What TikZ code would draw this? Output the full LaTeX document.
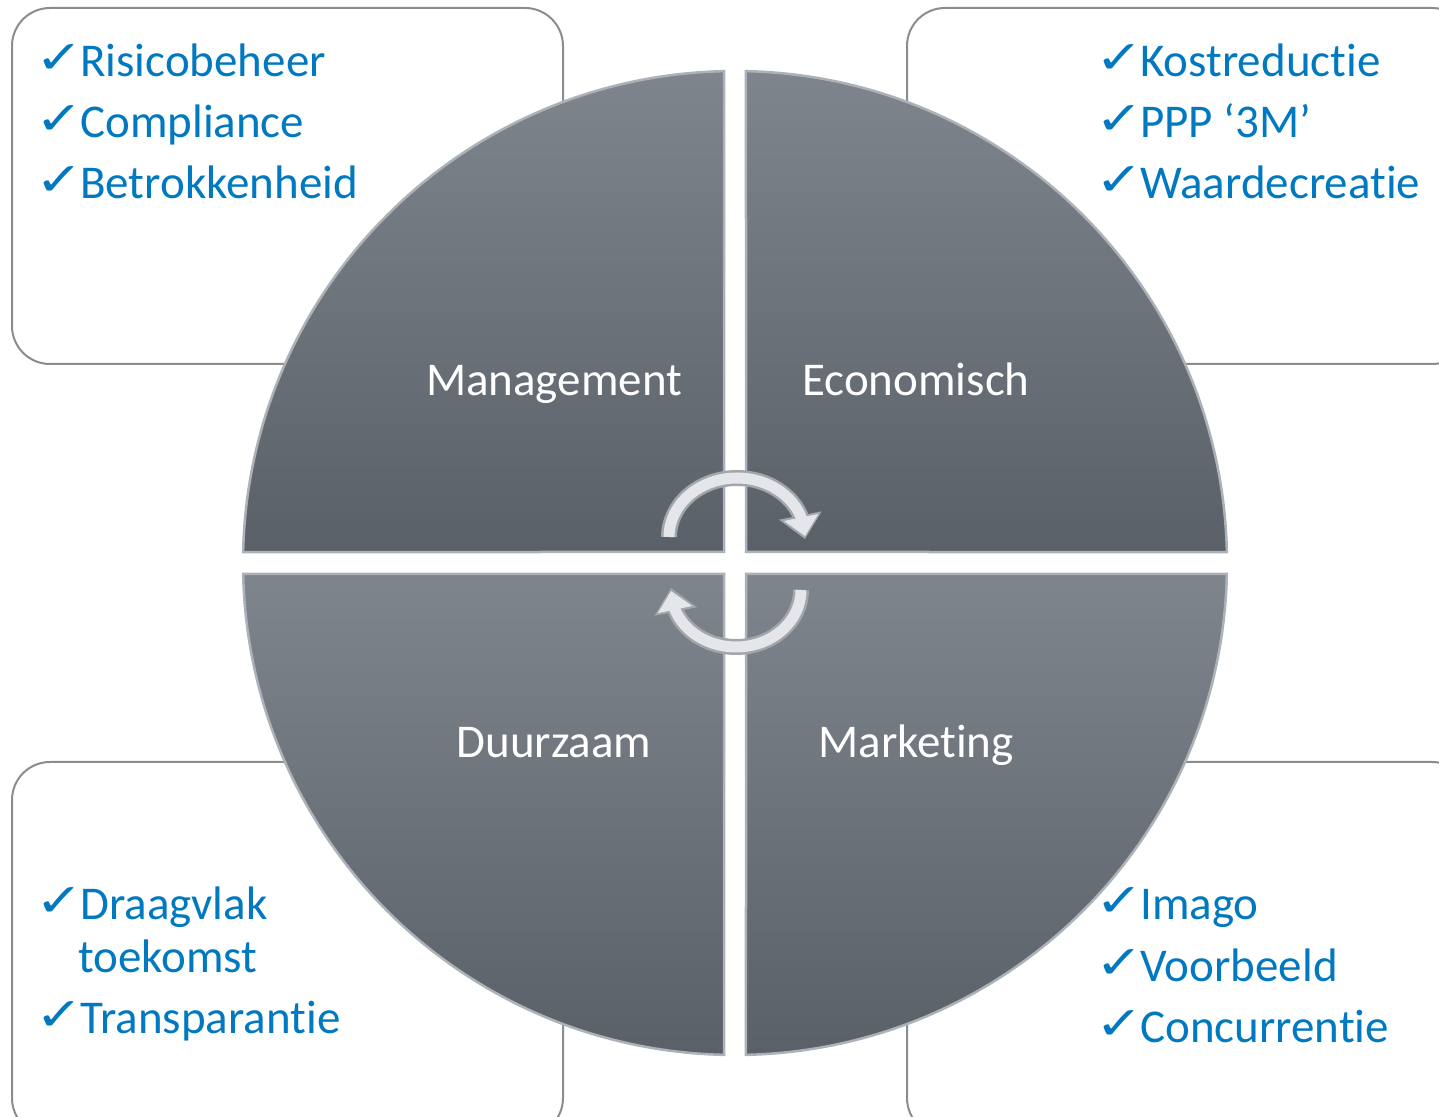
\documentclass[tikz,border=0pt]{standalone}
\usepackage{fontspec}
\setmainfont{Carlito}[Ligatures=NoCommon]
\newfontfamily\dejavu{DejaVu Sans}
\usetikzlibrary{arrows.meta,bending}
\definecolor{txtblue}{RGB}{0,121,193}
\definecolor{qtop}{RGB}{126,133,140}
\definecolor{qbot}{RGB}{89,96,103}
\definecolor{qedge}{RGB}{172,178,184}
\definecolor{boxline}{RGB}{140,140,140}
\definecolor{arrowout}{RGB}{160,166,172}
\definecolor{arrowin}{RGB}{228,230,233}
\newcommand{\chk}{\makebox[36pt][l]{\hspace*{-9pt}\raisebox{3pt}{\scalebox{1.25}[1]{\dejavu\fontsize{46}{46}\selectfont ✓}}}}
\tikzset{
  infobox/.style={draw=boxline, line width=2pt, fill=white, rounded corners=38pt},
  quad/.style={top color=qtop, bottom color=qbot, draw=qedge, line width=2.5pt},
  quadlabel/.style={text=white, font=\fontsize{47}{56}\selectfont, anchor=base, inner sep=0pt},
  listtxt/.style={text=txtblue, font=\fontsize{47}{56}\selectfont, anchor=base west, inner sep=0pt},
  arrowouter/.style={draw=arrowout, line width=16pt, -{Triangle[length=24pt,width=42pt,flex]}},
  arrowinner/.style={draw=arrowin, line width=11pt, shorten >=3pt, -{Triangle[length=19pt,width=34pt,flex]}}
}
\begin{document}
\begin{tikzpicture}[x=1pt,y=1pt]
\useasboundingbox (0,0) rectangle (1439,1116);
\clip (0,0) rectangle (1439,1116);
\fill[white] (0,0) rectangle (1439,1116);
% boxes
\draw[infobox] (12,752) rectangle (563,1108);
\draw[infobox] (907,752) rectangle (1470,1108);
\draw[infobox] (12,-20) rectangle (563,354);
\draw[infobox] (907,-20) rectangle (1470,354);
% quadrants
\coordinate (c) at (735,553);
\path[quad] (724,564) -- ([shift={(91.28:492)}]c) arc[start angle=91.28,end angle=178.72,radius=492] -- cycle;
\path[quad] (746,564) -- ([shift={(1.28:492)}]c) arc[start angle=1.28,end angle=88.72,radius=492] -- cycle;
\path[quad] (724,542) -- ([shift={(181.28:492)}]c) arc[start angle=181.28,end angle=268.72,radius=492] -- cycle;
\path[quad] (746,542) -- ([shift={(271.28:492)}]c) arc[start angle=271.28,end angle=358.72,radius=492] -- cycle;
% circular arrows
\coordinate (a1) at (669,579);
\coordinate (a2) at (801,526);
\draw[arrowouter] (a1) arc[start angle=180,end angle=-2,x radius=68,y radius=59];
\draw[arrowinner] (a1) arc[start angle=180,end angle=-2,x radius=68,y radius=59];
\draw[arrowouter] (a2) arc[start angle=0,end angle=-182,x radius=65,y radius=57];
\draw[arrowinner] (a2) arc[start angle=0,end angle=-182,x radius=65,y radius=57];
% quadrant labels
\node[quadlabel] (man) at (554,720) {Management};
\node[quadlabel] (eco) at (916,720) {Economisch};
\node[quadlabel] (duu) at (554,358) {Duurzaam};
\node[quadlabel] (mar) at (916,358) {Marketing};
% lists
\node[listtxt] (tl1) at (44,1039) {\chk Risicobeheer};
\node[listtxt] (tl2) at (44,978) {\chk Compliance};
\node[listtxt] (tl3) at (44,917) {\chk Betrokkenheid};
\node[listtxt] (tr1) at (1104,1039) {\chk Kostreductie};
\node[listtxt] (tr2) at (1104,978) {\chk PPP ‘3M’};
\node[listtxt] (tr3) at (1104,917) {\chk Waardecreatie};
\node[listtxt] (bl1) at (44,196) {\chk Draagvlak};
\node[listtxt] (bl2) at (78,144) {toekomst};
\node[listtxt] (bl3) at (44,83) {\chk Transparantie};
\node[listtxt] (br1) at (1104,196) {\chk Imago};
\node[listtxt] (br2) at (1104,135) {\chk Voorbeeld};
\node[listtxt] (br3) at (1104,74) {\chk Concurrentie};
\end{tikzpicture}
\end{document}
